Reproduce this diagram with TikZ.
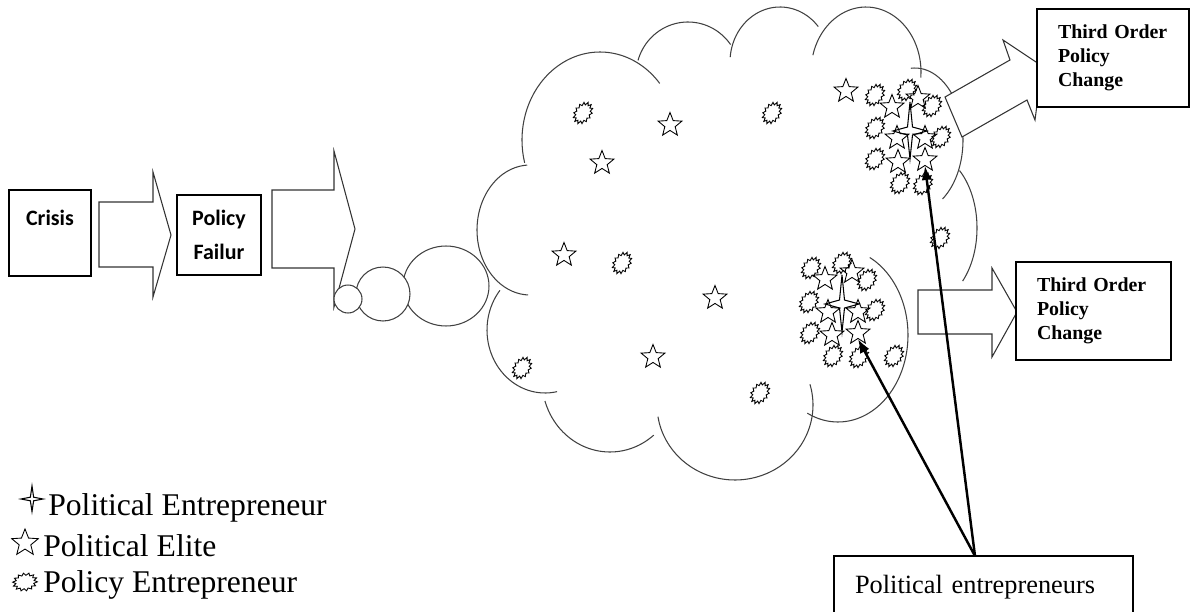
\documentclass[tikz,border=0pt]{standalone}
\usepackage{fontspec}
\setmainfont{Liberation Serif}
\newfontfamily\calibri{Carlito}
\usetikzlibrary{arrows.meta,shapes.geometric}

% one bump of the cloud outline
\newcommand{\puffarc}[6]{%
  \draw[puff] plot[domain=#5:#6, samples=40, smooth]
    ({#1+#3*cos(\x)},{#2+#4*sin(\x)});}

\tikzset{
  flowbox/.style={draw, line width=0.8pt, fill=white, inner sep=0pt},
  thirdbox/.style={flowbox, minimum height=1.96cm, align=left, inner xsep=0.42cm,
                   font=\bfseries\fontsize{11.3}{13.6}\selectfont},
  legendtxt/.style={anchor=base west, inner sep=0pt, font=\fontsize{18}{21}\selectfont},
  blockarrow/.style={draw=black!80, line width=0.6pt, fill=white},
  puff/.style={draw=black!75, line width=0.6pt},
  bubble/.style={ellipse, draw=black!75, line width=0.6pt, inner sep=0pt},
  elite/.style={star, star points=5, star point ratio=2.3, draw, line width=0.5pt,
                minimum size=0.5cm, inner sep=0pt},
  pointer/.style={->, line width=1.4pt},
  policyent/.pic={\draw[line width=0.5pt, rotate=#1, xscale=1.4] (0:6.3)
      \foreach \k in {1,...,27} { -- ({\k*360/28}:{6.3+2.2*mod(\k,2)}) } -- cycle;},
  politicalent/.pic={\draw[line width=0.6pt] (0,-29) -- (2.5,-4) -- (17,0) -- (2.5,4)
      -- (0,28) -- (-2.5,4) -- (-17,0) -- (-2.5,-4) -- cycle;}
}

\begin{document}
\begin{tikzpicture}[>={Latex[length=0.28cm, width=0.21cm]}, x=0.02cm, y=-0.02cm]
  \useasboundingbox (0,0) rectangle (1191,612);

  % crisis and policy failure
  \node[flowbox, minimum width=1.64cm, minimum height=1.72cm] (crisis) at (50,233) {};
  \node[anchor=base, font=\calibri\bfseries\fontsize{12.5}{15}\selectfont] (crisislbl) at (50,225) {Crisis};
  \draw[blockarrow] (99,202) -- (153,202) -- (153,172) -- (171,235) -- (153,297) -- (153,267) -- (99,267) -- cycle;
  \node[flowbox, minimum width=1.68cm, minimum height=1.6cm, align=center,
        font=\calibri\bfseries\fontsize{12.5}{19.3}\selectfont] (failure) at (219,235) {Policy\\Failur};
  \draw[blockarrow] (272,190) -- (334,190) -- (334,151) -- (355,229) -- (334,307) -- (334,268) -- (272,268) -- cycle;

  % bubbles
  \node[bubble, minimum width=1.72cm, minimum height=1.6cm] (bub3) at (446,286) {};
  \node[bubble, fill=white, minimum width=1.08cm, minimum height=1.08cm] (bub2) at (383,294) {};
  \node[bubble, fill=white, minimum width=0.56cm, minimum height=0.56cm] (bub1) at (348,299) {};

  % cloud
  \puffarc{530}{230}{53}{65}{-268}{-93}
  \puffarc{600}{140}{78}{88}{-195}{-40}
  \puffarc{688}{75}{52}{53}{-164}{-35}
  \puffarc{780}{62}{50}{55}{-175}{-40}
  \puffarc{866}{72}{55}{65}{-165}{5}
  \puffarc{915}{140}{48}{72}{-95}{55}
  \puffarc{928}{228}{49}{75}{-50}{45}
  \puffarc{838}{335}{70}{87}{-63}{116}
  \puffarc{735}{405}{78}{75}{-16}{171}
  \puffarc{610}{380}{68}{72}{50}{163}
  \puffarc{545}{330}{58}{63}{78}{219}

  % actors in the cloud
  \foreach \p [count=\i] in {(670,125),(602,163),(564,255),(715,298),(653,357),(846,91)}
    \node[elite] (el\i) at \p {};
  \foreach \p [count=\i] in {(892,107),(918,98),(897,138),(925,138),(898,162),(925,160)}
    \node[elite] (up\i) at \p {};
  \foreach \p [count=\i] in {(825,279),(852,272),(828,312),(858,312),(832,335),(858,333)}
    \node[elite] (lo\i) at \p {};
  \foreach \p in {(583,113),(772,113),(622,263),(522,368),(760,393),(940,238),
                  (875,95),(907,90),(932,106),(875,128),(941,137),(875,159),(900,183),(923,184),
                  (811,268),(842,263),(867,280),(809,302),(875,310),(810,333),(833,356),(859,357),(894,356)}
    \pic at \p {policyent=55};
  \pic at (910,131) {politicalent};
  \pic at (842,304) {politicalent};

  % outcomes
  \draw[blockarrow] (945,97) -- (1010,60) -- (1003,40) -- (1042,66) -- (1035,120) -- (1027,100) -- (962,137) -- cycle;
  \draw[blockarrow] (918,290) -- (992,290) -- (992,268) -- (1017,312) -- (992,357) -- (992,334) -- (918,334) -- cycle;
  \node[thirdbox, text width=2.2cm] (third1) at (1113,58) {Third Order\\Policy\\Change};
  \node[thirdbox, text width=2.26cm] (third2) at (1093.5,311) {Third Order\\Policy\\Change};

  \node[flowbox, minimum width=5.98cm, minimum height=1.24cm, text width=5.14cm, align=left,
        inner xsep=0.42cm, font=\fontsize{15}{18}\selectfont] (pebox) at (983.5,587) {Political entrepreneurs};
  \coordinate (pejoin) at (975,556);
  \draw[pointer] (pejoin) -- (up6.south);
  \draw[pointer] (pejoin) -- (lo6.south);

  % legend
  \pic[xscale=0.65, yscale=0.45] at (32,499) {politicalent};
  \node[legendtxt] (lgpolent) at (48,515) {Political Entrepreneur};
  \node[elite, minimum size=0.56cm] (lgelite) at (25,543) {};
  \node[legendtxt] (lgelitetxt) at (43,556) {Political Elite};
  \pic[scale=1.05] at (25,582) {policyent=10};
  \node[legendtxt] (lgpolicy) at (43,592) {Policy Entrepreneur};
\end{tikzpicture}
\end{document}
